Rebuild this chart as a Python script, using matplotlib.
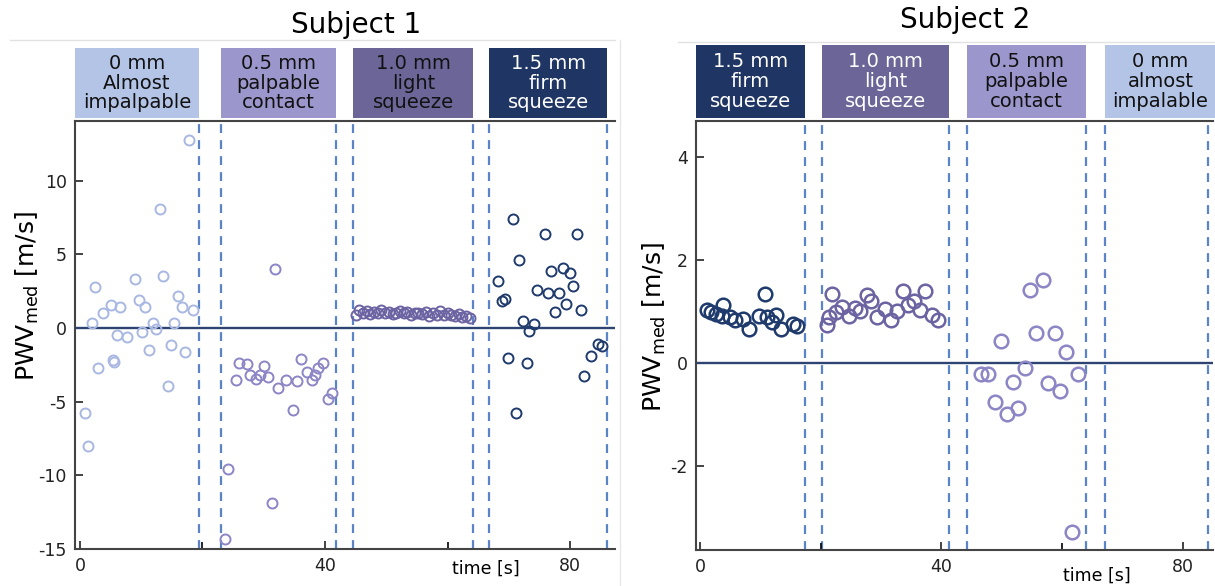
import matplotlib
matplotlib.use("Agg")
import matplotlib.pyplot as plt
from matplotlib.patches import Rectangle
from matplotlib.lines import Line2D
from matplotlib.transforms import blended_transform_factory

plt.rcParams["axes.unicode_minus"] = False

# colours per contact level
c_box = {"0": "#b4c4e6", "0.5": "#9b96cc", "1.0": "#6b6598", "1.5": "#1f3564"}
c_pts = {"0": "#a9b8e2", "0.5": "#8c85c6", "1.0": "#6b63a2", "1.5": "#1f3a6c"}

# ---- Subject 1 ----
s1_t_0 = [0.8, 1.3, 1.9, 2.5, 3.0, 3.7, 5.0, 5.4, 5.5, 6.0, 6.6, 7.7, 9.0, 9.6, 10.1,
          10.7, 11.3, 11.9, 12.4, 13.1, 13.6, 14.3, 14.8, 15.3, 16.0, 16.7, 17.1, 17.8, 18.4]
s1_v_0 = [-5.8, -8.0, 0.35, 2.75, -2.7, 1.0, 1.55, -2.15, -2.3, -0.45, 1.4, -0.6, 3.35, 1.9, -0.3,
          1.4, -1.5, 0.35, -0.05, 8.05, 3.55, -3.95, -1.15, 0.35, 2.15, 1.4, -1.6, 12.75, 1.2]

s1_t_05 = [23.7, 24.2, 25.4, 25.9, 27.3, 27.7, 28.8, 29.4, 30.1, 30.7, 31.3, 31.8, 32.4,
           33.6, 34.7, 35.4, 36.0, 37.1, 37.8, 38.4, 38.9, 39.6, 40.5, 41.2]
s1_v_05 = [-14.3, -9.6, -3.55, -2.4, -2.45, -3.2, -3.45, -3.2, -2.6, -3.3, -11.85, 4.0, -4.05,
           -3.55, -5.55, -3.6, -2.1, -3.0, -3.5, -3.2, -2.7, -2.4, -4.8, -4.4]

s1_t_10 = [45.0, 45.6, 46.2, 46.8, 47.4, 48.0, 48.6, 49.2, 49.8, 50.4, 51.0, 51.6, 52.2, 52.8,
           53.4, 54.0, 54.6, 55.2, 55.8, 56.4, 57.0, 57.6, 58.2, 58.8, 59.4, 60.0, 60.6, 61.2,
           61.8, 62.4, 63.0, 63.6]
s1_v_10 = [0.9, 1.2, 1.0, 1.15, 0.95, 1.1, 1.05, 1.2, 1.0, 1.1, 0.95, 1.05, 1.15, 1.0,
           1.1, 0.9, 1.05, 1.0, 0.95, 1.1, 0.8, 1.0, 0.9, 1.15, 0.85, 1.0, 0.9, 0.8,
           0.95, 0.75, 0.8, 0.7]

s1_t_15 = [68.2, 68.8, 69.3, 69.9, 70.6, 71.2, 71.7, 72.3, 72.9, 73.3, 74.1, 74.6, 75.8, 76.4,
           76.9, 77.5, 78.1, 78.8, 79.3, 80.0, 80.5, 81.1, 81.7, 82.2, 83.4, 84.5, 85.2]
s1_v_15 = [3.2, 1.8, 1.95, -2.05, 7.4, -5.8, 4.6, 0.45, -2.4, -0.2, 0.3, 2.55, 6.4, 2.35,
           3.9, 1.1, 2.35, 4.05, 1.65, 3.7, 2.85, 6.35, 1.2, -3.25, -1.9, -1.1, -1.2]

s1_bounds = [19.4, 23.0, 41.8, 44.6, 64.2, 66.8, 86.0]
s1_labels = ["0 mm\nAlmost\nimpalpable", "0.5 mm\npalpable\ncontact",
             "1.0 mm\nlight\nsqueeze", "1.5 mm\nfirm\nsqueeze"]
s1_levels = ["0", "0.5", "1.0", "1.5"]

# ---- Subject 2 ----
s2_t_15 = [1.1, 1.9, 2.6, 3.6, 3.8, 5.0, 5.8, 7.1, 8.1, 9.8, 10.8, 11.1, 11.9, 12.6, 13.5, 15.4, 16.0]
s2_v_15 = [1.03, 1.0, 0.96, 0.91, 1.13, 0.9, 0.83, 0.85, 0.66, 0.91, 1.35, 0.9, 0.8, 0.93, 0.67, 0.76, 0.72]

s2_t_10 = [21.0, 21.3, 21.8, 22.6, 23.6, 24.7, 25.7, 26.5, 27.6, 28.3, 29.4, 30.6, 31.6, 32.6,
           33.6, 34.5, 35.4, 36.4, 37.3, 38.4, 39.5]
s2_v_10 = [0.74, 0.9, 1.34, 1.0, 1.09, 0.91, 1.06, 1.02, 1.32, 1.21, 0.9, 1.04, 0.83, 1.02,
           1.39, 1.13, 1.21, 1.03, 1.4, 0.93, 0.83]

s2_t_05 = [46.6, 47.7, 48.8, 49.8, 50.9, 51.8, 52.7, 53.8, 54.6, 55.7, 56.8, 57.7, 58.8, 59.7,
           60.7, 61.7, 62.6]
s2_v_05 = [-0.22, -0.22, -0.75, 0.43, -0.98, -0.37, -0.88, -0.1, 1.42, 0.59, 1.62, -0.39, 0.59,
           -0.54, 0.21, -3.28, -0.22]

s2_bounds = [17.4, 20.2, 41.2, 44.2, 63.9, 67.1, 84.1]
s2_labels = ["1.5 mm\nfirm\nsqueeze", "1.0 mm\nlight\nsqueeze",
             "0.5 mm\npalpable\ncontact", "0 mm\nalmost\nimpalable"]
s2_levels = ["1.5", "1.0", "0.5", "0"]

W, H = 1215, 586
fig = plt.figure(figsize=(W / 100, H / 100), dpi=100)
ax1 = fig.add_axes([75 / W, 1 - 549 / H, (615 - 75) / W, (549 - 121) / H])
ax2 = fig.add_axes([696 / W, 1 - 550 / H, (1213 - 696) / W, (550 - 121) / H])


def style_axes(ax, xlim, ylim, yticks):
    ax.set_xlim(*xlim)
    ax.set_ylim(*ylim)
    ax.set_yticks(yticks)
    ax.set_xticks([0, 40, 80])
    ax.set_xticks([20, 60], minor=True)
    ax.tick_params(direction="in", length=6, width=1.2, labelsize=12.5,
                   colors="#222222", pad=6)
    ax.tick_params(which="minor", direction="in", length=5, width=1.2)
    for s in ["left", "bottom", "top"]:
        ax.spines[s].set_color("#444444")
        ax.spines[s].set_linewidth(1.5)
    ax.spines["right"].set_visible(False)
    ax.axhline(0, color="#2d4473", lw=1.7, zorder=2)
    ax.set_ylabel("PWV$_\\mathregular{med}$ [m/s]", fontsize=18)


def draw_phases(ax, xmin, xmax, bounds, labels, levels, top, dark_mid):
    for b in bounds:
        ax.axvline(b, color="#5b84c8", lw=1.6, ls=(0, (4, 3.2)), zorder=1)
    edges = [xmin] + bounds[:-1] + [xmax]
    trans = blended_transform_factory(ax.transData, ax.transAxes)
    for i, (lab, lev) in enumerate(zip(labels, levels)):
        x0, x1 = edges[2 * i], edges[2 * i + 1]
        ax.add_patch(Rectangle((x0, 1.007), x1 - x0, top - 1.007, transform=trans,
                               facecolor=c_box[lev], edgecolor="none", clip_on=False))
        tc = "white" if lev == "1.5" or (lev == "1.0" and not dark_mid) else "#111111"
        ax.text((x0 + x1) / 2, (1.007 + top) / 2, lab, transform=trans, ha="center",
                va="center", fontsize=14, color=tc, linespacing=1.05)


style_axes(ax1, (-0.8, 87.3), (-15, 14.05), [-15, -10, -5, 0, 5, 10])
draw_phases(ax1, -0.8, 86.0, s1_bounds, s1_labels, s1_levels, 1.17, True)
kw1 = dict(ls="none", marker="o", ms=7.2, mfc="none", mew=1.4, zorder=3)
ax1.plot(s1_t_0, s1_v_0, mec=c_pts["0"], **kw1)
ax1.plot(s1_t_05, s1_v_05, mec=c_pts["0.5"], **kw1)
ax1.plot(s1_t_10, s1_v_10, mec=c_pts["1.0"], **kw1)
ax1.plot(s1_t_15, s1_v_15, mec=c_pts["1.5"], **kw1)
ax1.yaxis.set_label_coords(-0.063, 0.59)
ax1.text(0.76, -0.025, "time [s]", transform=ax1.transAxes, ha="center", va="top", fontsize=12.5)

style_axes(ax2, (-0.66, 85.0), (-3.63, 4.7), [-2, 0, 2, 4])
draw_phases(ax2, -0.66, 85.5, s2_bounds, s2_labels, s2_levels, 1.177, False)
kw2 = dict(ls="none", marker="o", ms=9.8, mfc="none", mew=1.8, zorder=3)
ax2.plot(s2_t_15, s2_v_15, mec=c_pts["1.5"], **kw2)
ax2.plot(s2_t_10, s2_v_10, mec=c_pts["1.0"], **kw2)
ax2.plot(s2_t_05, s2_v_05, mec=c_pts["0.5"], **kw2)
ax2.yaxis.set_label_coords(-0.054, 0.52)
ax2.text(0.775, -0.04, "time [s]", transform=ax2.transAxes, ha="center", va="top", fontsize=12.5)

fig.text(356 / W, 1 - 25 / H, "Subject 1", ha="center", va="center", fontsize=20)
fig.text(965 / W, 1 - 20 / H, "Subject 2", ha="center", va="center", fontsize=20)

# faint panel borders from the source image
fig.add_artist(Line2D([10 / W, 615 / W], [1 - 40 / H] * 2, color="#e2e2e2", lw=1))
fig.add_artist(Line2D([678 / W, 1 - 1 / W], [1 - 42 / H] * 2, color="#e2e2e2", lw=1))
fig.add_artist(Line2D([620 / W] * 2, [0, 1 - 40 / H], color="#e8e8e8", lw=1))

fig.savefig("out.png", dpi=100)
